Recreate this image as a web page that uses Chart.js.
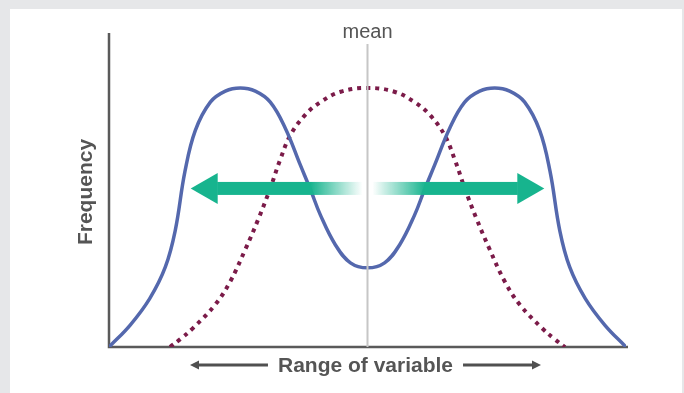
<!DOCTYPE html>
<html>
<head>
<meta charset="utf-8">
<script src="https://cdn.jsdelivr.net/npm/chart.js@4"></script>
<style>
  html, body { margin: 0; padding: 0; background: #e6e7e9; width: 684px; height: 393px; overflow: hidden; }
  #frame { position: absolute; left: 10px; top: 9px; width: 672px; height: 384px; background: #ffffff; }
</style>
</head>
<body>
<div id="frame"><canvas id="spreadChart"></canvas></div>
<script>
// Bimodal distribution (solid blue)
const bimodalX = [0, 4.1, 7.9, 10.9, 12.8, 14.7, 16.7, 19.6, 22.5, 25.4, 28.3, 31.2, 34.1, 37.0, 39.0, 40.9, 43.8, 46.7, 50,
  53.3, 56.2, 59.1, 61.0, 63.0, 65.9, 68.8, 71.7, 74.6, 77.5, 80.4, 83.3, 85.3, 87.2, 89.1, 92.1, 95.9, 100];
const bimodalFreq = [0, 7.0, 15.5, 25.5, 37.0, 56.0, 69.0, 78.0, 81.5, 82.5, 81.5, 78.0, 69.7, 58.0, 50.0, 42.0, 32.5, 26.8, 25.2,
  26.8, 32.5, 42.0, 50.0, 58.0, 69.7, 78.0, 81.5, 82.5, 81.5, 78.0, 69.0, 56.0, 37.0, 25.5, 15.5, 7.0, 0];

// Normal distribution (dotted maroon)
const normalX = [11.8, 13.8, 16.3, 20.5, 23.4, 26.4, 28.9, 31.2, 33.1, 35.1, 38.0, 40.9, 44.8, 50,
  55.2, 59.1, 62.0, 64.9, 66.9, 68.8, 71.1, 73.6, 76.6, 79.5, 83.7, 86.2, 88.2];
const normalFreq = [0, 2.5, 6.1, 13.4, 20.7, 31.2, 40.8, 50.6, 59.6, 67.5, 74.0, 78.0, 81.3, 82.5,
  81.3, 78.0, 74.0, 67.5, 59.6, 50.6, 40.8, 31.2, 20.7, 13.4, 6.1, 2.5, 0];

const meanX = 50;
const spreadY = 50.5;          // height of the spread arrows
const spreadTips = [15.8, 84.2]; // where the arrow heads point

const labels = { mean: "mean", yTitle: "Frequency", xTitle: "Range of variable" };

const toPoints = (xs, ys) => xs.map((x, i) => ({ x: x, y: ys[i] }));

const textColor = "#555555";
const fontFamily = "'Liberation Sans Narrow', 'Liberation Sans', sans-serif";

function drawArrowHead(ctx, tipX, y, dir, len, half) {
  ctx.beginPath();
  ctx.moveTo(tipX, y);
  ctx.lineTo(tipX + dir * len, y - half);
  ctx.lineTo(tipX + dir * len, y + half);
  ctx.closePath();
  ctx.fill();
}

const decorations = {
  id: "decorations",
  beforeDatasetsDraw(chart) {
    const { ctx, chartArea: a } = chart;
    ctx.save();
    ctx.strokeStyle = "#5a5a5a";
    ctx.lineWidth = 2.5;
    ctx.beginPath();
    ctx.moveTo(a.left, a.top);
    ctx.lineTo(a.left, a.bottom);
    ctx.lineTo(a.right + 2, a.bottom);
    ctx.stroke();
    ctx.restore();
  },
  afterDatasetsDraw(chart) {
    const { ctx, chartArea: a, scales } = chart;
    const xs = scales.x, ys = scales.y;
    const mx = xs.getPixelForValue(meanX);

    ctx.save();
    // mean line
    ctx.strokeStyle = "#c6c6c6";
    ctx.lineWidth = 2;
    ctx.beginPath();
    ctx.moveTo(mx, a.top + 11);
    ctx.lineTo(mx, a.bottom);
    ctx.stroke();

    // spread arrows fading in from the mean
    const ay = ys.getPixelForValue(spreadY);
    const teal = "23, 180, 142";
    const headLen = 27, headHalf = 15.5, bodyHalf = 6.5;

    const lTip = xs.getPixelForValue(spreadTips[0]);
    const lBase = lTip + headLen;
    const lg = ctx.createLinearGradient(mx - 5, 0, mx - 57, 0);
    lg.addColorStop(0, "rgba(" + teal + ",0)");
    lg.addColorStop(1, "rgba(" + teal + ",1)");
    ctx.fillStyle = lg;
    ctx.fillRect(lBase - 0.5, ay - bodyHalf, (mx - 4) - lBase, bodyHalf * 2);
    ctx.fillStyle = "rgb(" + teal + ")";
    drawArrowHead(ctx, lTip, ay, 1, headLen, headHalf);

    const rTip = xs.getPixelForValue(spreadTips[1]);
    const rBase = rTip - headLen;
    const rg = ctx.createLinearGradient(mx + 5, 0, mx + 58, 0);
    rg.addColorStop(0, "rgba(" + teal + ",0)");
    rg.addColorStop(1, "rgba(" + teal + ",1)");
    ctx.fillStyle = rg;
    ctx.fillRect(mx + 4, ay - bodyHalf, rBase + 0.5 - (mx + 4), bodyHalf * 2);
    ctx.fillStyle = "rgb(" + teal + ")";
    drawArrowHead(ctx, rTip, ay, -1, headLen, headHalf);

    // labels
    ctx.fillStyle = textColor;
    ctx.textAlign = "center";
    ctx.textBaseline = "alphabetic";
    ctx.font = "20px " + fontFamily;
    ctx.fillText(labels.mean, mx, a.top + 5);

    ctx.font = "bold 21px " + fontFamily;
    ctx.save();
    ctx.translate(a.left - 17, (a.top + a.bottom) / 2 + 2);
    ctx.rotate(-Math.PI / 2);
    ctx.fillText(labels.yTitle, 0, 0);
    ctx.restore();

    const tx = mx - 2, ty = a.bottom + 25;
    ctx.fillText(labels.xTitle, tx, ty);
    const w = ctx.measureText(labels.xTitle).width;
    const ry = a.bottom + 18, gap = 10, len = 78;
    ctx.strokeStyle = "#505050";
    ctx.fillStyle = "#505050";
    ctx.lineWidth = 3;
    ctx.beginPath();
    ctx.moveTo(tx - w / 2 - gap, ry);
    ctx.lineTo(tx - w / 2 - gap - len + 6, ry);
    ctx.moveTo(tx + w / 2 + gap, ry);
    ctx.lineTo(tx + w / 2 + gap + len - 6, ry);
    ctx.stroke();
    drawArrowHead(ctx, tx - w / 2 - gap - len, ry, 1, 9, 4.5);
    drawArrowHead(ctx, tx + w / 2 + gap + len, ry, -1, 9, 4.5);
    ctx.restore();
  }
};

const ctx = document.getElementById("spreadChart").getContext("2d");
new Chart(ctx, {
  type: "scatter",
  data: {
    datasets: [
      {
        label: "Bimodal",
        data: toPoints(bimodalX, bimodalFreq),
        showLine: true,
        borderColor: "#5468ad",
        borderWidth: 3.5,
        pointRadius: 0,
        tension: 0.4,
        fill: false,
      },
      {
        label: "Normal",
        data: toPoints(normalX, normalFreq),
        showLine: true,
        borderColor: "#7b1b49",
        borderWidth: 4,
        borderDash: [4, 5],
        borderCapStyle: "butt",
        pointRadius: 0,
        tension: 0.4,
        fill: false,
      },
    ],
  },
  options: {
    responsive: true,
    maintainAspectRatio: false,
    animation: false,
    layout: { padding: { left: 99, top: 24, right: 56, bottom: 46 } },
    plugins: {
      legend: { display: false },
      tooltip: { enabled: false },
    },
    scales: {
      x: { type: "linear", min: 0, max: 100, display: false },
      y: { min: 0, max: 100, display: false },
    },
  },
  plugins: [decorations],
});
</script>
</body>
</html>
